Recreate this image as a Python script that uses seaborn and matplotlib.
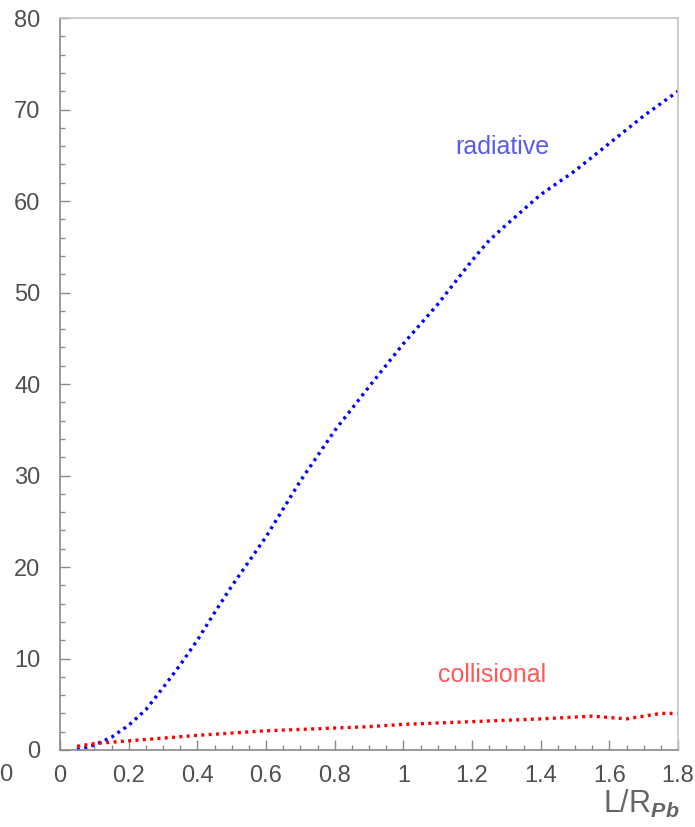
import matplotlib
matplotlib.use("Agg")
import matplotlib.pyplot as plt
from matplotlib.ticker import MultipleLocator, FuncFormatter
import numpy as np
import pandas as pd
import seaborn as sns

# Path length in units of the Pb nuclear radius
x_rad = [0.05, 0.10, 0.15, 0.20, 0.25, 0.30, 0.35, 0.40, 0.45, 0.50, 0.55,
         0.60, 0.70, 0.80, 0.90, 1.00, 1.10, 1.20, 1.25, 1.30, 1.40, 1.50,
         1.60, 1.70, 1.80]
# Radiative energy loss
y_rad = [0.0, 0.55, 1.4, 2.7, 4.4, 6.8, 9.3, 12.0, 15.0, 17.9, 20.6,
         23.3, 29.4, 34.9, 39.7, 44.4, 48.7, 53.5, 55.7, 57.4, 60.7, 63.3,
         66.3, 69.3, 72.0]

x_col = [0.05, 0.10, 0.15, 0.20, 0.30, 0.40, 0.50, 0.60, 0.70, 0.80, 0.90,
         1.00, 1.10, 1.20, 1.30, 1.40, 1.50, 1.55, 1.60, 1.65, 1.70, 1.75, 1.80]
# Collisional energy loss
y_col = [0.4, 0.7, 0.85, 1.0, 1.3, 1.6, 1.85, 2.1, 2.25, 2.4, 2.55,
         2.8, 2.95, 3.1, 3.25, 3.4, 3.6, 3.7, 3.55, 3.4, 3.7, 4.0, 4.0]

x_ticks = [0, 0.2, 0.4, 0.6, 0.8, 1.0, 1.2, 1.4, 1.6, 1.8]
y_ticks = [0, 10, 20, 30, 40, 50, 60, 70, 80]

sns.set_style("white")
plt.rcParams["font.family"] = ["Liberation Sans", "DejaVu Sans"]
plt.rcParams["mathtext.fontset"] = "custom"
plt.rcParams["mathtext.rm"] = "Liberation Sans"
plt.rcParams["mathtext.it"] = "Liberation Sans:italic:bold"

W, H = 695, 827
fig = plt.figure(figsize=(W / 100, H / 100), dpi=100)
ax = fig.add_axes([60 / W, 77 / H, 618 / W, 732 / H])

df_rad = pd.DataFrame({"x": x_rad, "y": y_rad})
df_col = pd.DataFrame({"x": x_col, "y": y_col})

dots = (0, (0.9, 1.3))
sns.lineplot(data=df_rad, x="x", y="y", ax=ax, color="#0000ff",
             linewidth=2.4, linestyle=dots, sort=False)
sns.lineplot(data=df_col, x="x", y="y", ax=ax, color="#ff0000",
             linewidth=2.4, linestyle=dots, sort=False)

ax.set_xlim(0, 1.8)
ax.set_ylim(0, 80)
ax.set_xlabel("")
ax.set_ylabel("")

ax.set_xticks(x_ticks)
ax.set_yticks(y_ticks)
ax.xaxis.set_minor_locator(MultipleLocator(0.05))
ax.yaxis.set_minor_locator(MultipleLocator(2))
ax.xaxis.set_major_formatter(FuncFormatter(lambda v, p: f"{v:g}"))

tick_gray = "#8a8a8a"
ax.tick_params(which="both", direction="in", left=True, bottom=True,
               top=False, right=False, color=tick_gray, width=1)
ax.tick_params(which="major", length=7, labelsize=17, labelcolor="#505050")
ax.tick_params(axis="x", which="major", pad=11)
ax.tick_params(axis="y", which="major", pad=14)
ax.tick_params(which="minor", length=3.8)

for side in ("left", "bottom"):
    ax.spines[side].set_color(tick_gray)
    ax.spines[side].set_linewidth(1.2)
for side in ("top", "right"):
    ax.spines[side].set_color("#c4c4c4")
    ax.spines[side].set_linewidth(1.2)

ax.text(1.288, 65.9, "radiative", color="#5a5af0", fontsize=18,
        ha="center", va="center")
ax.text(1.257, 8.2, "collisional", color="#ff5a5a", fontsize=18,
        ha="center", va="center")

fig.text(679 / W, 1 - 804 / H, r"L/R$_{\mathit{Pb}}$", color="#666666",
         fontsize=22, ha="right", va="center")
fig.text(13 / W, 1 - 775 / H, "00", color="#505050", fontsize=17,
         ha="right", va="center")

fig.savefig("out.png", dpi=100, facecolor="white")
